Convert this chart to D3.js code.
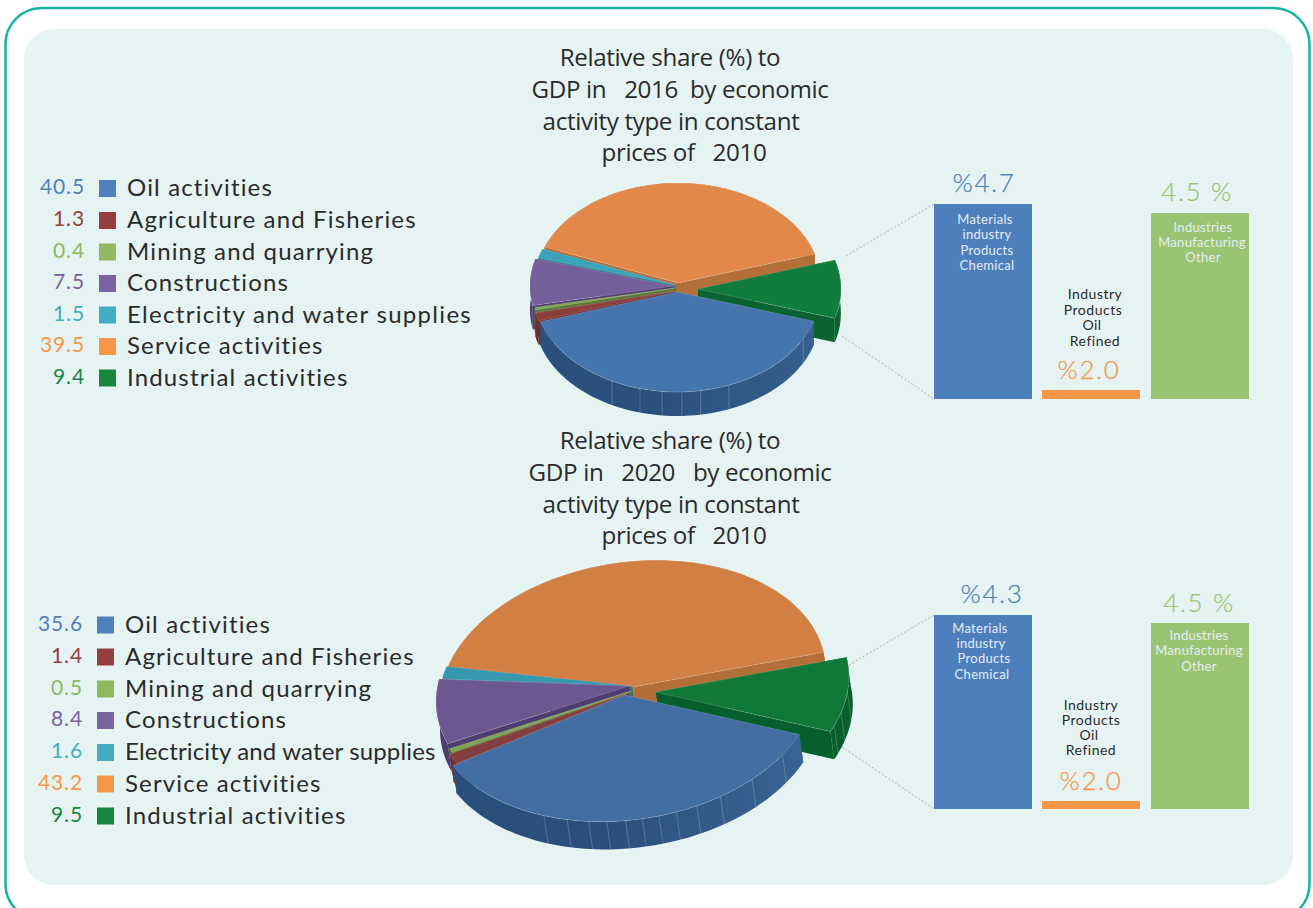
<!DOCTYPE html>
<html>
<head>
<meta charset="utf-8">
<script src="https://cdn.jsdelivr.net/npm/d3@7"></script>
<style>
  html, body { margin: 0; padding: 0; background: #fff; overflow: hidden; }
  text { white-space: pre; }
</style>
</head>
<body>
<svg id="chart" width="1313" height="908"></svg>
<script>
// Economic activities, in legend order
const activities = ["Oil activities", "Agriculture and Fisheries", "Mining and quarrying", "Constructions",
  "Electricity and water supplies", "Service activities", "Industrial activities"];
const shares2016 = [40.5, 1.3, 0.4, 7.5, 1.5, 39.5, 9.4];
const shares2020 = [35.6, 1.4, 0.5, 8.4, 1.6, 43.2, 9.5];

// Breakdown of the industrial slice
const industryLabels = [
  ["Materials", "industry", "Products", "Chemical"],
  ["Industry", "Products", "Oil", "Refined"],
  ["Industries", "Manufacturing", "Other"]
];
const industry2016 = [4.7, 2.0, 4.5];
const industry2020 = [4.3, 2.0, 4.5];
const industryTags2016 = ["%4.7", "%2.0", "4.5 %"];
const industryTags2020 = ["%4.3", "%2.0", "4.5 %"];

const titleLines2016 = ["Relative share (%) to", "GDP in   2016  by economic", "activity type in constant", "prices of   2010"];
const titleLines2020 = ["Relative share (%) to", "GDP in   2020   by economic", "activity type in constant", "prices of   2010"];

const legendColors = ["#4f81bd", "#953f3f", "#8fb85f", "#7a62a0", "#43acc4", "#f79646", "#17863f"];
const tagColors = ["#4f81bd", "#f79646", "#9bc472"];
const ink = "#2b2b2b";

const panels = [
  {
    shares: shares2016, titleLines: titleLines2016, titleX: [670, 680, 671, 684], titleY: 66,
    legend: { swatchX: 99, valueX: 85, labelX: 127, rows: [188.5, 220.5, 252, 283.5, 315, 346.5, 378], longRowSpacing: 1.3 },
    pie: {
      rx: 143, ry: 100, tilt: 0, depth: 24, start: 17,
      tops: ["#4575ac", "#8e3d3d", "#7fa350", "#745f9b", "#3aa3b9", "#e1884a", "#107c3e"],
      walls: ["#2c507d", "#6f2a2a", "#5d7a3a", "#513f74", "#2b7c8e", "#b46f38", "#0a6330"],
      wallEnd: ["#35608f", "#6f2a2a", "#5d7a3a", "#513f74", "#2b7c8e", "#b46f38", "#0a6330"],
      centers: [[677, 292], [675, 291], [675, 288], [673, 286], [676, 285], [678, 283], [698, 289]],
      facets: [[28, 68.7, 80.5, 88, 96, 105, 117], [], [], [], [], [], [6]]
    },
    bars: {
      values: industry2016, tags: industryTags2016, base: 399, heights: [195, 9, 186],
      tagPos: [[984, 192], [1089, 379], [1197, 201]],
      lines: [[[985, 224], [987, 239], [987, 255], [987, 270]],
              [[1095, 299], [1093, 315], [1092, 330], [1095, 346]],
              [[1203, 232], [1202, 247], [1203, 262]]]
    },
    leaders: [[846, 256, 934, 204], [842, 336, 934, 399]]
  },
  {
    shares: shares2020, titleLines: titleLines2020, titleX: [670, 680, 671, 684], titleY: 449,
    legend: { swatchX: 97, valueX: 83, labelX: 125, rows: [625, 657, 689, 720.5, 752.5, 784, 816], longRowSpacing: 0.15 },
    pie: {
      rx: 194, ry: 125, tilt: 8, depth: 28, start: 30.5,
      tops: ["#426ea3", "#843e3e", "#7fa350", "#6c5890", "#3898ad", "#d27f44", "#107838"],
      walls: ["#2b4f7c", "#762c2c", "#5d7a3a", "#4e3d70", "#2b7c8e", "#b46f38", "#065f2c"],
      wallEnd: ["#3b6597", "#762c2c", "#5d7a3a", "#4e3d70", "#2b7c8e", "#b46f38", "#065f2c"],
      centers: [[625, 695], [629, 693], [631, 691], [629, 686], [632, 686], [633, 687], [656, 692]],
      facets: [[40.5, 54, 65.5, 73.3, 79.7, 85, 90, 95, 100.6, 106, 112.6, 120], [], [], [], [], [], [12.5, 21.6, 27.7]]
    },
    bars: {
      values: industry2020, tags: industryTags2020, base: 809, heights: [194, 8, 186],
      tagPos: [[992, 603], [1091, 790], [1199, 612]],
      lines: [[[980, 633], [981, 648], [984, 663], [982, 679]],
              [[1091, 710], [1091, 725], [1089, 740], [1091, 755]],
              [[1199, 640], [1199, 655], [1199, 671]]]
    },
    leaders: [[849, 665, 934, 615], [842, 747, 934, 809]]
  }
];

// Slices are painted back to front so nearer ones overlap their neighbours
const paintOrder = [5, 4, 3, 2, 1, 6, 0];
const barX = [934, 1042, 1151];
const barWidth = 98;

const svg = d3.select("#chart");
const defs = svg.append("defs");

// Outer frame and tinted panel
svg.append("rect").attr("x", 5.5).attr("y", 8).attr("width", 1304).attr("height", 912)
  .attr("rx", 36).attr("fill", "#fff").attr("stroke", "#17b3a8").attr("stroke-width", 2.5);
svg.append("rect").attr("x", 24).attr("y", 29).attr("width", 1269).attr("height", 856)
  .attr("rx", 30).attr("fill", "#e5f4f2");

const lineGen = d3.line().x(d => d[0]).y(d => d[1]);

function projector(pie) {
  const t = pie.tilt * Math.PI / 180;
  return (center, angle, z) => [
    center[0] + pie.rx * Math.cos(angle) * Math.cos(t) + pie.ry * Math.sin(angle) * Math.sin(t) + z * pie.depth * Math.sin(t),
    center[1] - pie.rx * Math.cos(angle) * Math.sin(t) + pie.ry * Math.sin(angle) * Math.cos(t) + z * pie.depth * Math.cos(t)
  ];
}

function drawPie(panel, panelIndex) {
  const pie = panel.pie;
  const project = projector(pie);
  const startAngle = pie.start * Math.PI / 180;
  const arcs = d3.pie().sort(null).startAngle(startAngle).endAngle(startAngle + 2 * Math.PI)(panel.shares);
  const g = svg.append("g");

  paintOrder.forEach(i => {
    const a = arcs[i];
    const c = pie.centers[i];
    const steps = d3.range(0, 61).map(k => a.startAngle + (a.endAngle - a.startAngle) * k / 60);
    const rim = steps.map(th => project(c, th, 0));
    const rimLow = steps.map(th => project(c, th, 1));

    // Horizontal shading along the outer wall
    const gradId = `wall-${panelIndex}-${i}`;
    const grad = defs.append("linearGradient").attr("id", gradId).attr("gradientUnits", "userSpaceOnUse")
      .attr("x1", c[0] - pie.rx).attr("x2", c[0] + pie.rx).attr("y1", 0).attr("y2", 0);
    grad.append("stop").attr("offset", "0.45").attr("stop-color", pie.walls[i]);
    grad.append("stop").attr("offset", "1").attr("stop-color", pie.wallEnd[i]);

    const centerTop = [c[0], c[1]];
    const centerLow = [c[0] + pie.depth * Math.sin(pie.tilt * Math.PI / 180), c[1] + pie.depth * Math.cos(pie.tilt * Math.PI / 180)];

    // Cut faces, then outer wall
    [[rim[0], rimLow[0]], [rim[60], rimLow[60]]].forEach(([top, low]) => {
      g.append("path").attr("d", lineGen([centerTop, top, low, centerLow]) + "Z").attr("fill", pie.walls[i]);
    });
    g.append("path").attr("d", lineGen(rim.concat(rimLow.slice().reverse())) + "Z").attr("fill", `url(#${gradId})`);

    // Facet lines on the wall
    pie.facets[i].forEach(deg => {
      const th = deg * Math.PI / 180;
      g.append("path").attr("d", lineGen([project(c, th, 0), project(c, th, 1)]))
        .attr("stroke", "#fff").attr("stroke-opacity", 0.3).attr("stroke-width", 0.7).attr("fill", "none");
    });

    // Top face with its faint highlight edge
    g.append("path").attr("d", lineGen([centerTop].concat(rim)) + "Z")
      .attr("fill", pie.tops[i]).attr("stroke", "#fff").attr("stroke-opacity", 0.28).attr("stroke-width", 0.6);
  });
}

function drawLegend(panel) {
  const g = svg.append("g");
  panel.shares.forEach((v, i) => {
    const y = panel.legend.rows[i];
    g.append("rect").attr("x", panel.legend.swatchX).attr("y", y - 8.5).attr("width", 17).attr("height", 17)
      .attr("fill", legendColors[i]);
    g.append("text").attr("x", panel.legend.valueX).attr("y", y + 5.5).attr("text-anchor", "end")
      .attr("font-family", "Lato").attr("font-size", 21).attr("font-weight", 400).attr("letter-spacing", 0.9)
      .attr("fill", legendColors[i]).text(d3.format(".1f")(v));
    // The longest label is set tighter so it stops short of the 2020 pie
    g.append("text").attr("x", panel.legend.labelX).attr("y", y + 7.5)
      .attr("font-family", "Lato").attr("font-size", 24)
      .attr("letter-spacing", i === 4 ? panel.legend.longRowSpacing : 1.15)
      .attr("fill", ink).text(activities[i]);
  });
}

function drawTitle(panel) {
  panel.titleLines.forEach((line, i) => {
    svg.append("text").attr("x", panel.titleX[i]).attr("y", panel.titleY + i * 31.8).attr("text-anchor", "middle")
      .attr("font-family", "Open Sans").attr("font-size", 24.2).attr("letter-spacing", -0.35)
      .attr("fill", ink).text(line);
  });
}

function drawBars(panel) {
  const b = panel.bars;
  // Each bar's height is looked up from the figure it is labelled with
  const heightOf = d3.scaleOrdinal().domain(b.values).range(b.heights);
  const g = svg.append("g");

  panel.leaders.forEach(l => {
    g.append("line").attr("x1", l[0]).attr("y1", l[1]).attr("x2", l[2]).attr("y2", l[3])
      .attr("stroke", "#a9b3b2").attr("stroke-width", 1).attr("stroke-dasharray", "2 2");
  });

  b.values.forEach((v, i) => {
    const h = heightOf(v);
    g.append("rect").attr("x", barX[i]).attr("y", b.base - h).attr("width", barWidth).attr("height", h)
      .attr("fill", i === 0 ? "#4d7fbc" : i === 1 ? "#f79646" : "#9bc472");
    g.append("text").attr("x", b.tagPos[i][0]).attr("y", b.tagPos[i][1]).attr("text-anchor", "middle")
      .attr("font-family", "Lato").attr("font-size", 26).attr("font-weight", 300).attr("letter-spacing", 1.6)
      .attr("fill", tagColors[i]).attr("stroke", tagColors[i]).attr("stroke-width", 0.25).text(b.tags[i]);
    industryLabels[i].forEach((line, k) => {
      g.append("text").attr("x", b.lines[i][k][0]).attr("y", b.lines[i][k][1]).attr("text-anchor", "middle")
        .attr("font-family", "Lato").attr("font-size", i === 1 ? 14 : 13).attr("letter-spacing", i === 1 ? 0.5 : 0.3)
        .attr("fill", i === 1 ? ink : "#e4edf5").text(line);
    });
  });
}

panels.forEach((panel, i) => {
  drawTitle(panel);
  drawBars(panel);
  drawPie(panel, i);
  drawLegend(panel);
});
</script>
</body>
</html>
